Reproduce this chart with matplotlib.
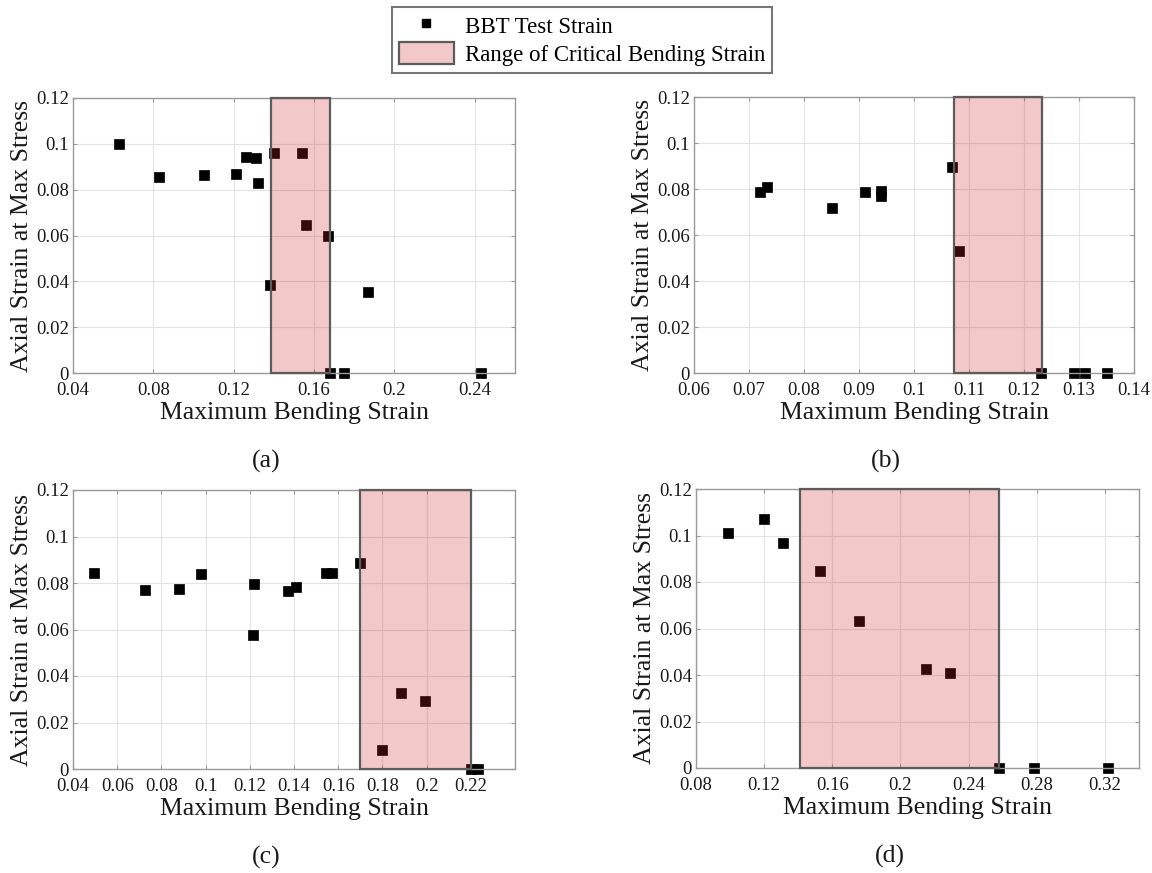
import numpy as np
import matplotlib.pyplot as plt
from matplotlib.patches import Rectangle
from matplotlib.lines import Line2D

plt.rcParams['font.family'] = ['Liberation Serif', 'DejaVu Serif']

# panel (a)
a_x = [0.063, 0.083, 0.105, 0.121, 0.126, 0.131, 0.132, 0.140, 0.154, 0.156,
       0.167, 0.138, 0.187, 0.168, 0.175, 0.243]
a_y = [0.100, 0.0855, 0.0865, 0.087, 0.0943, 0.0939, 0.083, 0.0958, 0.0958, 0.0648,
       0.060, 0.0384, 0.0355, 0.0, 0.0, 0.0]
a_range = [0.1385, 0.168]
a_xticks = [0.04, 0.08, 0.12, 0.16, 0.2, 0.24]
a_xlim = [0.04, 0.26]

# panel (b)
b_x = [0.072, 0.0732, 0.0851, 0.0911, 0.094, 0.094, 0.1069, 0.1081, 0.123, 0.129, 0.131, 0.135]
b_y = [0.0788, 0.0808, 0.0716, 0.0788, 0.079, 0.077, 0.0896, 0.0532, 0.0, 0.0, 0.0, 0.0]
b_range = [0.1072, 0.1232]
b_xticks = [0.06, 0.07, 0.08, 0.09, 0.1, 0.11, 0.12, 0.13, 0.14]
b_xlim = [0.06, 0.14]

# panel (c)
c_x = [0.0497, 0.0728, 0.0878, 0.0978, 0.122, 0.1215, 0.1372, 0.1408, 0.1547, 0.157,
       0.170, 0.1798, 0.1882, 0.1992, 0.220, 0.2233]
c_y = [0.0845, 0.0769, 0.0775, 0.0837, 0.0795, 0.0576, 0.0766, 0.0784, 0.0845, 0.0845,
       0.0886, 0.0083, 0.0329, 0.0293, 0.0, 0.0]
c_range = [0.1697, 0.2202]
c_xticks = [0.04, 0.06, 0.08, 0.1, 0.12, 0.14, 0.16, 0.18, 0.2, 0.22]
c_xlim = [0.04, 0.24]

# panel (d)
d_x = [0.0988, 0.120, 0.1309, 0.1528, 0.1759, 0.2149, 0.2289, 0.2578, 0.2784, 0.322]
d_y = [0.101, 0.107, 0.0966, 0.0849, 0.0634, 0.0424, 0.0407, 0.0, 0.0, 0.0]
d_range = [0.141, 0.2576]
d_xticks = [0.08, 0.12, 0.16, 0.2, 0.24, 0.28, 0.32]
d_xlim = [0.08, 0.34]

yticks = [0, 0.02, 0.04, 0.06, 0.08, 0.1, 0.12]
panel_names = ['(a)', '(b)', '(c)', '(d)']

W, H = 1152, 873
fig = plt.figure(figsize=(W / 100, H / 100), dpi=100)

# axes boxes in pixels: left, right, top, bottom
boxes = [(73, 515, 98, 373), (694, 1134, 97, 373),
         (73, 515, 490, 769), (696, 1139, 489, 768)]

fill_rgba = (0.81, 0.14, 0.15, 0.25)
edge_col = '#5c5c5c'
spine_col = '#9a9a9a'
text_col = '#1a1a1a'


def fmt(v):
    s = f'{v:.2f}'.rstrip('0').rstrip('.')
    return s if s else '0'


panels = [(a_x, a_y, a_range, a_xticks, a_xlim),
          (b_x, b_y, b_range, b_xticks, b_xlim),
          (c_x, c_y, c_range, c_xticks, c_xlim),
          (d_x, d_y, d_range, d_xticks, d_xlim)]

for (xs, ys, rng, xt, xl), (l, r, t, b), name in zip(panels, boxes, panel_names):
    ax = fig.add_axes([l / W, 1 - b / H, (r - l) / W, (b - t) / H])
    ax.plot(xs, ys, 's', color='black', markersize=6.5, markeredgewidth=0.5,
            clip_on=False, zorder=2)
    ax.add_patch(Rectangle((rng[0], 0), rng[1] - rng[0], 0.12,
                           facecolor=fill_rgba, edgecolor=edge_col, linewidth=1.6,
                           zorder=3, clip_on=False))
    ax.set_xlim(xl)
    ax.set_ylim(0, 0.12)
    ax.set_xticks(xt)
    ax.set_xticklabels([fmt(v) for v in xt])
    ax.set_yticks(yticks)
    ax.set_yticklabels([fmt(v) for v in yticks])
    ax.grid(True, color='#e3e3e3', linewidth=0.8)
    ax.set_axisbelow(True)
    for s in ax.spines.values():
        s.set_color(spine_col)
        s.set_linewidth(1.0)
    ax.tick_params(direction='in', length=3, width=0.8, color=spine_col,
                   top=True, right=True, labelsize=13.5, labelcolor=text_col)
    ax.tick_params(axis='x', pad=6.5)
    ax.tick_params(axis='y', pad=3)
    ax.set_xlabel('Maximum Bending Strain', fontsize=18.5, color=text_col, labelpad=2)
    ax.set_ylabel('Axial Strain at Max Stress', fontsize=18.5, color=text_col, labelpad=2)
    cx = (l + r) / 2 - 28
    cy = b + 88
    fig.text(cx / W, 1 - cy / H, name, fontsize=18.5, color=text_col,
             ha='center', va='center')

handles = [Line2D([], [], linestyle='none', marker='s', color='black', markersize=6),
           Rectangle((0, 0), 1, 1, facecolor=fill_rgba, edgecolor=edge_col, linewidth=1.6)]
leg = fig.legend(handles, ['BBT Test Strain', 'Range of Critical Bending Strain'],
                 loc='upper center', bbox_to_anchor=(582 / W, 1 - 7 / H),
                 fontsize=16.5, frameon=True, fancybox=False, borderpad=0.3,
                 labelspacing=0.2, handlelength=2.4, handleheight=1.1,
                 handletextpad=0.5, borderaxespad=0)
leg.get_frame().set_edgecolor('#555555')
leg.get_frame().set_linewidth(1.5)

fig.savefig('out.png', dpi=100)
